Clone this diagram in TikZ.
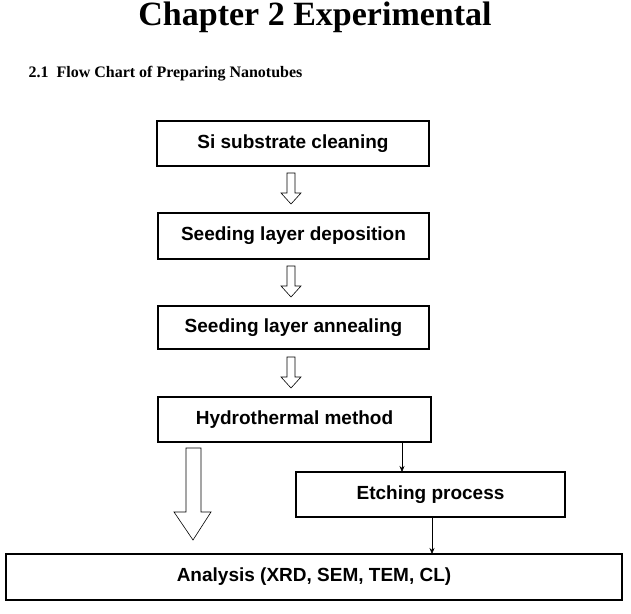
\documentclass[tikz,border=0pt]{standalone}
\usepackage{fontspec}
\usetikzlibrary{arrows.meta}
\setmainfont{Liberation Serif}
\newfontfamily\boxfont{Liberation Sans}
\begin{document}
\begin{tikzpicture}[x=1pt,y=-1pt,
  box/.style={draw,line width=1.2pt,inner sep=0,font=\boxfont\bfseries\fontsize{19}{22}\selectfont},
  thin/.style={-{Stealth[length=6pt,width=5pt]},line width=0.6pt}]
\useasboundingbox (0,0) rectangle (631,613);
\node[font=\bfseries\fontsize{34}{38}\selectfont] (title) at (315,17) {Chapter 2 Experimental};
\node[anchor=west,font=\bfseries\fontsize{16}{18}\selectfont] (sec) at (25,74) {2.1\ \ Flow Chart of Preparing Nanotubes};
\node[box,minimum width=272pt,minimum height=45pt] (a) at (293,143.5) {Si substrate cleaning};
\node[box,minimum width=271pt,minimum height=46pt] (b) at (293.5,236) {Seeding layer deposition};
\node[box,minimum width=271pt,minimum height=43pt] (c) at (293.5,327.5) {Seeding layer annealing};
\node[box,minimum width=273pt,minimum height=45pt] (d) at (294.5,419.5) {Hydrothermal method};
\node[box,minimum width=269pt,minimum height=45pt] (e) at (430.5,494.5) {Etching process};
\node[box,minimum width=616pt,minimum height=46pt] (f) at (314,577) {Analysis (XRD, SEM, TEM, CL)};
\foreach \y in {173,266,357}{
  \draw[line width=0.6pt] (287,\y) -- (295,\y) -- (295,\y+20) -- (301,\y+20) -- (291,\y+31) -- (281,\y+20) -- (287,\y+20) -- cycle;
}
\draw[line width=0.6pt] (186,448) -- (201,448) -- (201,512) -- (211,512) -- (193,540) -- (174,512) -- (186,512) -- cycle;
\coordinate (d1) at (402,442);
\coordinate (e1) at (402,472);
\coordinate (e2) at (432,517);
\coordinate (f1) at (432,554);
\draw[thin] (d1) -- (e1);
\draw[thin] (e2) -- (f1);
\end{tikzpicture}
\end{document}
